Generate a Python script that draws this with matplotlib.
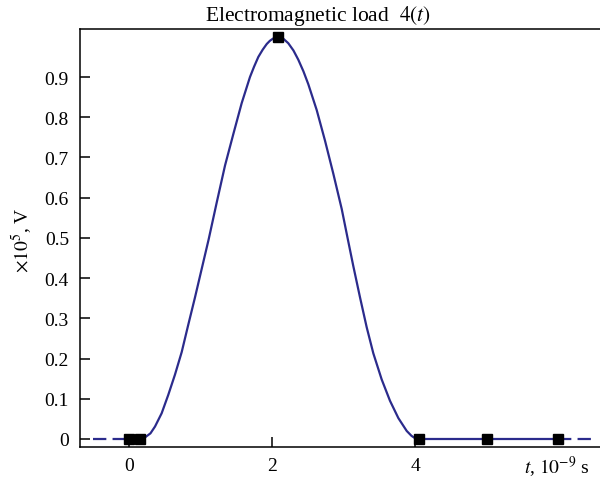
import matplotlib
matplotlib.use("Agg")
import matplotlib.pyplot as plt

plt.rcParams['font.family'] = ['Liberation Serif', 'DejaVu Serif']
plt.rcParams['mathtext.fontset'] = 'stix'
plt.rcParams['font.size'] = 14

# Pulse curve (t in 1e-9 s, value in 1e5 V)
pulse_t = [0.0, 0.15, 0.224, 0.30, 0.364, 0.457, 0.55, 0.643, 0.737, 0.829, 0.923, 1.017,
           1.115, 1.227, 1.343, 1.459, 1.576, 1.692, 1.75, 1.809, 1.87, 1.926, 1.97, 2.01,
           2.05, 2.085, 2.12, 2.16, 2.228, 2.30, 2.368, 2.44, 2.508, 2.625, 2.741, 2.857,
           2.975, 3.06, 3.137, 3.231, 3.324, 3.417, 3.534, 3.65, 3.767, 3.884, 3.95,
           4.0, 4.06, 6.0]
pulse_v = [0.0, 0.0, 0.004, 0.014, 0.031, 0.064, 0.110, 0.160, 0.216, 0.284, 0.352, 0.423,
           0.497, 0.588, 0.680, 0.758, 0.835, 0.900, 0.926, 0.950, 0.968, 0.982, 0.990, 0.995,
           0.999, 1.0, 0.999, 0.995, 0.984, 0.966, 0.943, 0.914, 0.882, 0.818, 0.742, 0.660,
           0.572, 0.497, 0.430, 0.352, 0.278, 0.213, 0.148, 0.095, 0.052, 0.020, 0.008,
           0.002, 0.0, 0.0]

# Dashed extensions
left_t = [-0.5, 0.0]
left_v = [0.0, 0.0]
right_t = [6.0, 6.5]
right_v = [0.0, 0.0]

# Square markers
marker_t = [0.0, 0.15, 2.085, 4.06, 5.0, 6.0]
marker_v = [0.0, 0.0, 1.0, 0.0, 0.0, 0.0]

xticks = [0, 2, 4]
yticks = [0, 0.1, 0.2, 0.3, 0.4, 0.5, 0.6, 0.7, 0.8, 0.9]
ytick_labels = ['0', '0.1', '0.2', '0.3', '0.4', '0.5', '0.6', '0.7', '0.8', '0.9']

color = '#2b2b8c'

fig = plt.figure(figsize=(6, 4.85), dpi=100)
ax = fig.add_axes([80/600, 1-448/485, 520/600, 418/485])

ax.plot(pulse_t, pulse_v, color=color, lw=1.6, solid_capstyle='butt',
        solid_joinstyle='round', zorder=2)
ax.plot(left_t, left_v, color=color, lw=1.6, linestyle=(0, (6, 2.8)), zorder=2)
ax.plot(right_t, right_v, color=color, lw=1.6, linestyle=(0, (6, 2.8)), zorder=2)
ax.plot(marker_t, marker_v, linestyle='none', marker='s', ms=6.5, color='black', zorder=3)

ax.set_xlim(-0.685, 6.587)
ax.set_ylim(-0.0199, 1.0194)

ax.set_xticks(xticks)
ax.set_xticklabels([str(v) for v in xticks])
ax.set_yticks(yticks)
ax.set_yticklabels(ytick_labels)

ax.spines['right'].set_visible(False)
for s in ['left', 'bottom', 'top']:
    ax.spines[s].set_linewidth(1.1)
ax.tick_params(axis='both', direction='in', length=7, width=1.1, labelsize=14)
ax.tick_params(axis='y', pad=8)
ax.tick_params(axis='x', pad=7)

fig.text(318/600, 1-21/485, r'Electromagnetic load  $4(t)$', ha='center', va='baseline', fontsize=15.5)
fig.text(22/600, 1-240/485, r'$\times 10^5$, V', rotation=90, ha='center', va='center', fontsize=14)
fig.text(590/600, 1-473/485, r'$t$, $10^{-9}$ s', ha='right', va='baseline', fontsize=14)

fig.savefig('out.png', dpi=100)
